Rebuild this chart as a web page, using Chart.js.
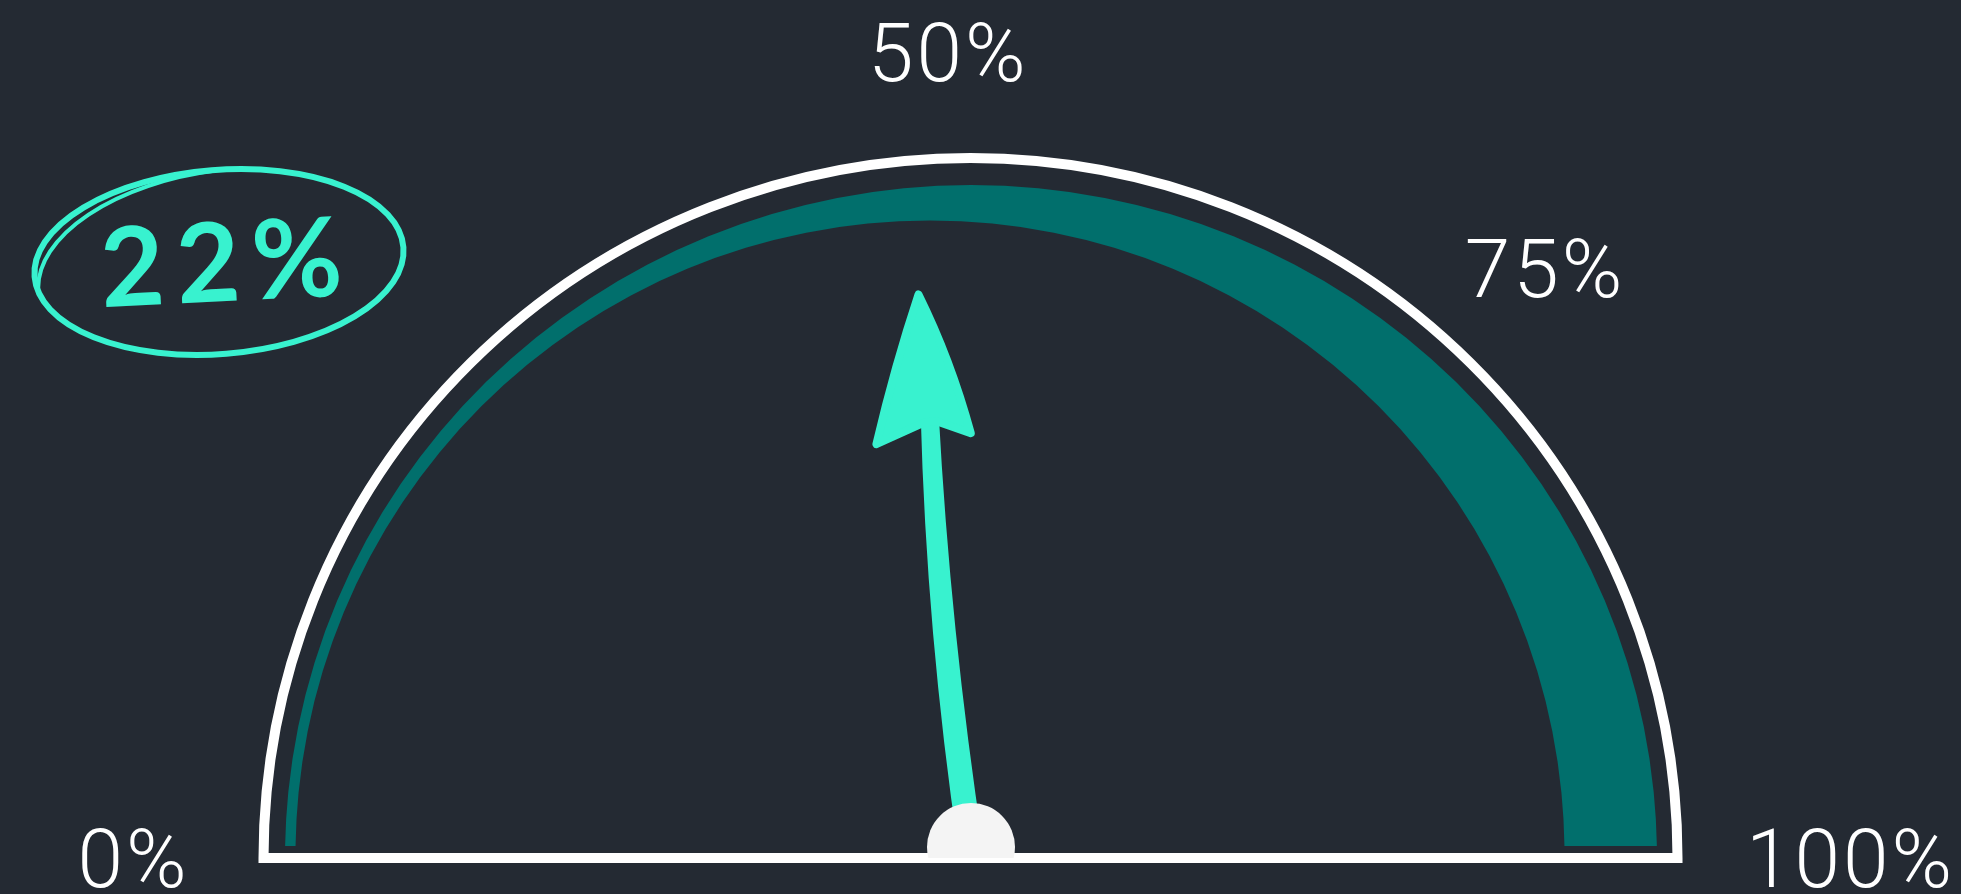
<!DOCTYPE html>
<html>
<head>
<meta charset="utf-8">
<script src="https://cdn.jsdelivr.net/npm/chart.js@4.4.1/dist/chart.umd.min.js"></script>
<style>
html, body { margin: 0; padding: 0; background: #242a33; }
#wrap { width: 1961px; height: 894px; position: relative; }
</style>
</head>
<body>
<div id="wrap"><canvas id="gaugeChart"></canvas></div>
<script>
// values
var tickValues = [0, 50, 75, 100];
var tickLabels = ['0%', '50%', '75%', '100%'];
var bandValues = [100];      // the teal band covers the whole range
var needleValue = 47;        // where the arrow points
var readoutText = '22%';

var bandColor = '#016f6c';
var accent = '#38f2cf';
var ink = '#ffffff';

function valueToAngle(v) {
    return Math.PI + v / 100 * Math.PI;
}

function clamp1(n) {
    return Math.max(-1, Math.min(1, n));
}

var gaugePlugin = {
    id: 'gauge',
    // band drawn as a crescent: thin at 0%, thick at 100%
    beforeDatasetDraw: function (chart, args) {
        var arc = chart.getDatasetMeta(args.index).data[0];
        var ctx = chart.ctx;
        var cx = arc.x, cy = arc.y, R = arc.outerRadius;
        var ri = R - 51.5;
        ctx.save();
        ctx.beginPath();
        ctx.rect(0, 0, chart.width, cy - 12);
        ctx.clip();
        ctx.beginPath();
        ctx.ellipse(cx + 1, cy, R, R - 13, 0, 0, Math.PI * 2);
        ctx.moveTo(cx - 40 + ri, cy - 3);
        ctx.ellipse(cx - 40, cy - 3, ri, ri, 0, 0, Math.PI * 2);
        ctx.fillStyle = arc.options.backgroundColor;
        ctx.fill('evenodd');
        ctx.restore();
        return false;
    },
    afterDatasetsDraw: function (chart, args, opts) {
        var arc = chart.getDatasetMeta(0).data[0];
        var ctx = chart.ctx;
        var cx = arc.x, cy = arc.y, R = arc.outerRadius;
        var rx = R + 21, ry = R + 14;

        // outline
        ctx.save();
        ctx.beginPath();
        ctx.ellipse(cx + 0.5, cy, rx, ry, 0, Math.PI, Math.PI * 2);
        ctx.closePath();
        ctx.lineWidth = 10;
        ctx.lineJoin = 'miter';
        ctx.strokeStyle = ink;
        ctx.stroke();
        ctx.restore();

        // needle
        ctx.save();
        ctx.translate(cx + 1, cy - 8);
        ctx.rotate(valueToAngle(needleValue));
        ctx.fillStyle = accent;
        ctx.strokeStyle = accent;
        ctx.beginPath();
        ctx.moveTo(0, -12.5);
        ctx.quadraticCurveTo(220, -24, 440, -9);
        ctx.lineTo(440, 9);
        ctx.quadraticCurveTo(220, 0, 0, 12.5);
        ctx.closePath();
        ctx.fill();
        ctx.beginPath();
        ctx.moveTo(558, 0);
        ctx.quadraticCurveTo(490, 26, 415, 39);
        ctx.lineTo(430, 6);
        ctx.lineTo(430, -6);
        ctx.lineTo(413, -56);
        ctx.quadraticCurveTo(490, -30, 558, 0);
        ctx.closePath();
        ctx.fill();
        ctx.lineWidth = 8;
        ctx.lineJoin = 'round';
        ctx.stroke();
        ctx.restore();

        // pivot
        ctx.save();
        ctx.beginPath();
        ctx.rect(0, 0, chart.width, cy);
        ctx.clip();
        ctx.beginPath();
        ctx.arc(cx + 1, cy - 11, 44, 0, Math.PI * 2);
        ctx.fillStyle = '#f4f4f4';
        ctx.fill();
        ctx.restore();

        // tick labels around the outline
        ctx.save();
        ctx.font = '300 82px Roboto';
        ctx.letterSpacing = '3px';
        ctx.fillStyle = ink;
        ctx.textAlign = 'left';
        ctx.textBaseline = 'alphabetic';
        tickValues.forEach(function (v, i) {
            var a = valueToAngle(v);
            var c = Math.cos(a), s = Math.sin(a);
            var m = ctx.measureText(tickLabels[i]);
            var w = m.actualBoundingBoxLeft + m.actualBoundingBoxRight;
            var h = m.actualBoundingBoxAscent + m.actualBoundingBoxDescent;
            var nudge = opts.labelNudge[i] || [0, 0];
            var bx = cx + c * (rx + opts.labelGap) + w / 2 * clamp1(c * Math.SQRT2) + nudge[0];
            var by = cy + s * (ry + opts.labelGap) + h / 2 * clamp1(s * Math.SQRT2) + nudge[1];
            ctx.fillText(tickLabels[i], bx - w / 2 + m.actualBoundingBoxLeft, by - h / 2 + m.actualBoundingBoxAscent);
        });
        ctx.restore();

        // hand-circled readout
        var r = opts.readout;
        ctx.save();
        ctx.translate(r.x, r.y);
        ctx.strokeStyle = accent;
        ctx.lineWidth = 6;
        ctx.lineCap = 'round';
        ctx.beginPath();
        ctx.ellipse(0, 0, 185, 92, -0.08, 0, Math.PI * 2);
        ctx.stroke();
        ctx.lineWidth = 4;
        ctx.beginPath();
        ctx.ellipse(8, 8, 190, 100, -0.13, Math.PI * 1.02, Math.PI * 1.5);
        ctx.stroke();
        ctx.rotate(-0.05);
        ctx.fillStyle = accent;
        ctx.font = '700 110px Lato';
        ctx.letterSpacing = '12px';
        ctx.textAlign = 'center';
        ctx.textBaseline = 'middle';
        ctx.fillText(readoutText, 8, 4);
        ctx.restore();
    }
};

var ctx = document.getElementById('gaugeChart').getContext('2d');
var R0 = 686;
var gaugeChart = new Chart(ctx, {
    type: 'doughnut',
    data: {
        labels: ['range'],
        datasets: [{
            data: bandValues,
            backgroundColor: bandColor,
            borderWidth: 0
        }]
    },
    options: {
        responsive: true,
        maintainAspectRatio: false,
        animation: false,
        rotation: -90,
        circumference: 180,
        cutout: '90%',
        layout: {
            padding: { left: 970 - R0, right: 1961 - 970 - R0, top: 858 - R0, bottom: 36 }
        },
        plugins: {
            legend: { display: false },
            tooltip: { enabled: false },
            gauge: {
                labelGap: 76,
                labelNudge: [[-4, 0], [-22, 0], [-56, -11], [0, 0]],
                readout: { x: 219, y: 262 }
            }
        }
    },
    plugins: [gaugePlugin]
});
</script>
</body>
</html>
